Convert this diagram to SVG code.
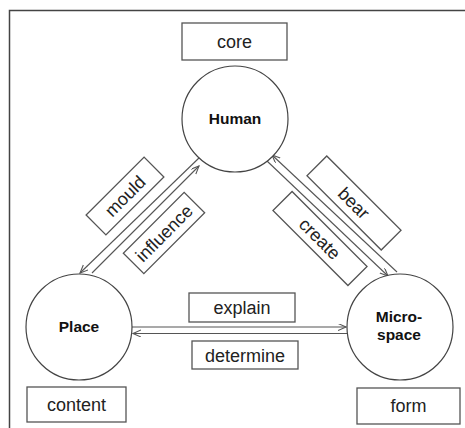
<svg xmlns="http://www.w3.org/2000/svg" width="465" height="428" viewBox="0 0 465 428">
<defs>
<style>
.frame{fill:none;stroke:#444;stroke-width:1.5}
.box{fill:#fff;stroke:#555;stroke-width:1.3}
.node{fill:#fff;stroke:#444;stroke-width:1.2}
.lbl{font-family:"Liberation Sans",Arial,sans-serif;font-size:18px;fill:#222;text-anchor:middle}
.nl{font-family:"Liberation Sans",Arial,sans-serif;font-size:15.5px;font-weight:bold;fill:#111;text-anchor:middle}
.con{fill:none;stroke:#555;stroke-width:1.1;marker-end:url(#ah)}
</style>
<marker id="ah" markerUnits="userSpaceOnUse" markerWidth="10" markerHeight="10" refX="8" refY="3.5" orient="auto">
<path d="M0,0 L8,3.5 L0,7" fill="none" stroke="#555" stroke-width="1.1"/>
</marker>
</defs>
<rect width="465" height="428" fill="#fff"/>
<path class="frame" d="M9.5,428 V10.5 H465"/>
<g id="connectors">
<line class="con" x1="200" y1="157" x2="80" y2="273"/>
<line class="con" x1="92" y1="273" x2="199" y2="166"/>
<line class="con" x1="397" y1="272" x2="272" y2="155"/>
<line class="con" x1="267" y1="161" x2="388" y2="276"/>
<line class="con" x1="132" y1="327" x2="346" y2="327"/>
<line class="con" x1="347" y1="333.5" x2="133" y2="333.5"/>
</g>
<g id="label-core"><rect class="box" x="182" y="23" width="105" height="37"/><text class="lbl" x="234.5" y="48">core</text></g>
<g id="node-human"><circle class="node" cx="235" cy="119" r="53"/><text class="nl" x="235" y="124">Human</text></g>
<g id="node-place"><circle class="node" cx="79" cy="327" r="53"/><text class="nl" x="79" y="332">Place</text></g>
<g id="node-microspace"><circle class="node" cx="400" cy="327" r="53"/><text class="nl" x="399" y="322">Micro-</text><text class="nl" x="399" y="340">space</text></g>
<g id="label-content"><rect class="box" x="27" y="387" width="99" height="35"/><text class="lbl" x="76.5" y="411">content</text></g>
<g id="label-form"><rect class="box" x="357" y="388" width="103" height="36"/><text class="lbl" x="408.5" y="412">form</text></g>
<g id="label-explain"><rect class="box" x="189" y="293" width="106" height="29"/><text class="lbl" x="242" y="313.5">explain</text></g>
<g id="label-determine"><rect class="box" x="192" y="341" width="106" height="28"/><text class="lbl" x="245" y="361.5">determine</text></g>
<g id="label-mould" transform="translate(125,196) rotate(-45)"><rect class="box" x="-41" y="-14" width="82" height="28"/><text class="lbl" x="0" y="6.5">mould</text></g>
<g id="label-influence" transform="translate(164,233) rotate(-45)"><rect class="box" x="-43" y="-14.5" width="86" height="29"/><text class="lbl" x="0" y="6.5">influence</text></g>
<g id="label-bear" transform="translate(354,203) rotate(45)"><rect class="box" x="-52.5" y="-14" width="105" height="28"/><text class="lbl" x="0" y="6.5">bear</text></g>
<g id="label-create" transform="translate(320,238.5) rotate(45)"><rect class="box" x="-53" y="-13.5" width="106" height="27"/><text class="lbl" x="0" y="6.5">create</text></g>
</svg>
